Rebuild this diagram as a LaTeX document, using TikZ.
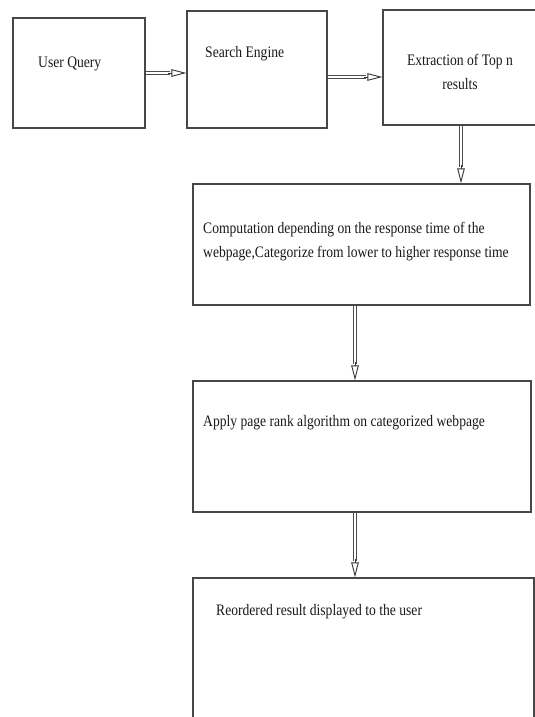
\documentclass[tikz,border=0pt]{standalone}
\usepackage{fontspec}
\setmainfont{Liberation Serif}[FakeStretch=0.85]
\usetikzlibrary{arrows.meta,calc}
\begin{document}
\begin{tikzpicture}[x=1pt,y=-1pt,
  box/.style={draw=black!72, line width=1.3pt, rectangle, inner sep=0pt},
  lbl/.style={anchor=base west, inner sep=0pt, font=\fontsize{16}{24}\selectfont, text=black!90},
  shaft/.style={draw=black!70, line width=0.9pt, double=white, double distance=2.2pt},
  head/.style={draw=black!80, line width=0.9pt, -{Triangle[open,length=15pt,width=7.5pt]}}]
\useasboundingbox (0,0) rectangle (535,717);
\clip (0,0) rectangle (535,717);
\fill[white] (0,0) rectangle (535,717);
% boxes
\node[box, minimum width=132pt, minimum height=110pt] (uq) at (79,73) {};
\node[box, minimum width=140pt, minimum height=117pt] (se) at (257,69.5) {};
\node[box, minimum width=162pt, minimum height=115pt] (ex) at (464,67.5) {};
\node[box, minimum width=337pt, minimum height=121pt] (comp) at (361.5,244.5) {};
\node[box, minimum width=338pt, minimum height=131pt] (app) at (362,446.5) {};
\node[box, minimum width=341pt, minimum height=152pt] (ro) at (363.5,654) {};
% labels
\node[lbl] (tuq) at (38,67) {User Query};
\node[lbl] (tse) at (205,57) {Search Engine};
\node[lbl, anchor=base, align=center] (tex) at (460,89) {Extraction of Top n\\results};
\node[lbl, align=left] (tcomp) at (203,257) {Computation depending on the response time of the\\webpage,Categorize from lower to higher response time};
\node[lbl] (tapp) at (203,426) {Apply page rank algorithm on categorized webpage};
\node[lbl] (tro) at (216,615) {Reordered result displayed to the user};
% arrows
\coordinate (a1s) at (uq.east);
\coordinate (a1e) at (se.west |- uq.east);
\draw[shaft] (a1s) -- ($(a1e)+(-16,0)$);
\draw[head] ($(a1e)+(-18,0)$) -- (a1e);
\coordinate (a2s) at (se.east |- 0,77);
\coordinate (a2e) at (ex.west |- 0,77);
\draw[shaft] (a2s) -- ($(a2e)+(-16,0)$);
\draw[head] ($(a2e)+(-18,0)$) -- (a2e);
\coordinate (a3s) at (ex.south -| 461,0);
\coordinate (a3e) at (comp.north -| 461,0);
\draw[shaft] (a3s) -- ($(a3e)+(0,-16)$);
\draw[head] ($(a3e)+(0,-18)$) -- (a3e);
\coordinate (a4s) at (comp.south -| 355,0);
\coordinate (a4e) at (app.north -| 355,0);
\draw[shaft] (a4s) -- ($(a4e)+(0,-16)$);
\draw[head] ($(a4e)+(0,-18)$) -- (a4e);
\coordinate (a5s) at (app.south -| 355,0);
\coordinate (a5e) at (ro.north -| 355,0);
\draw[shaft] (a5s) -- ($(a5e)+(0,-16)$);
\draw[head] ($(a5e)+(0,-18)$) -- (a5e);
\end{tikzpicture}
\end{document}
